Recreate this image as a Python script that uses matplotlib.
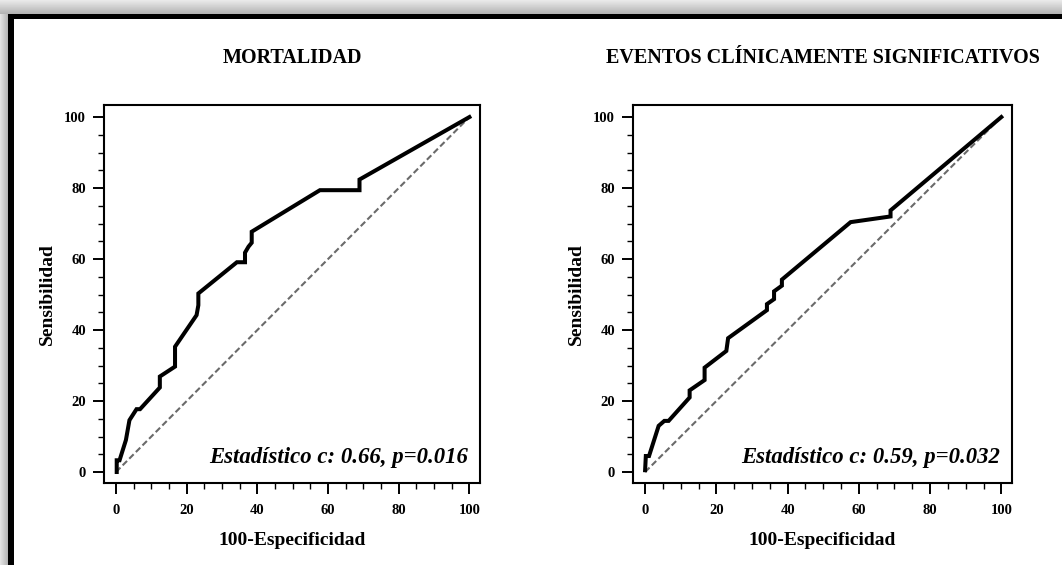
import matplotlib
matplotlib.use("Agg")
import matplotlib.pyplot as plt
import numpy as np
from matplotlib.ticker import MultipleLocator

plt.rcParams['font.family'] = ['Liberation Serif', 'DejaVu Serif']
plt.rcParams['font.weight'] = 'bold'

# datos (100-especificidad, sensibilidad)
mort_x = [0.2, 0.2, 1.0, 2.8, 3.8, 5.8, 6.8, 12.4, 12.4, 16.7, 16.7, 22.8, 23.3, 23.3,
          34.2, 36.5, 36.5, 37.5, 38.4, 38.4, 57.7, 68.9, 68.9, 100]
mort_y = [0.0, 3.3, 3.3, 9.0, 14.6, 17.7, 17.7, 23.8, 26.9, 29.7, 35.3, 44.2, 47.0, 50.3,
          59.1, 59.1, 61.8, 63.5, 64.6, 67.7, 79.4, 79.4, 82.4, 100]

evt_x = [0.0, 0.2, 1.1, 3.8, 5.4, 6.6, 12.5, 12.5, 16.7, 16.7, 22.8, 23.3, 34.2, 34.2,
         36.2, 36.2, 38.4, 38.4, 57.7, 68.9, 68.9, 100]
evt_y = [0.5, 4.5, 4.5, 13.0, 14.4, 14.4, 21.0, 23.0, 25.9, 29.4, 34.1, 37.7, 45.6, 47.3,
         48.7, 50.9, 52.5, 54.2, 70.4, 72.0, 73.7, 100]

titles = ["MORTALIDAD", "EVENTOS CLÍNICAMENTE SIGNIFICATIVOS"]
notes = ["Estadístico c: 0.66, p=0.016", "Estadístico c: 0.59, p=0.032"]

W, H = 1062, 565
fig = plt.figure(figsize=(W / 100, H / 100), dpi=100)

# marco con sombra
bg = fig.add_axes([0, 0, 1, 1], zorder=-5)
bg.axis('off')
grad = np.linspace(0.92, 0.7, 50).reshape(-1, 1)
bg.imshow(grad, cmap='gray', vmin=0, vmax=1, extent=[0, W, 14, 0], aspect='auto')
gradl = np.linspace(0.9, 0.68, 50).reshape(1, -1)
bg.imshow(gradl, cmap='gray', vmin=0, vmax=1, extent=[0, 9, H, 14], aspect='auto')
bg.add_patch(plt.Rectangle((8, 14), W, 5, color='black', lw=0))
bg.add_patch(plt.Rectangle((8, 14), 6, H, color='black', lw=0))
bg.set_xlim(0, W)
bg.set_ylim(H, 0)

boxes = [[104, 105, 480, 483], [633, 105, 1012, 483]]
curves = [(mort_x, mort_y), (evt_x, evt_y)]

for i in range(2):
    x0, y0, x1, y1 = boxes[i]
    ax = fig.add_axes([x0 / W, 1 - y1 / H, (x1 - x0) / W, (y1 - y0) / H])
    cx, cy = curves[i]
    ax.plot([0, 100], [0, 100], color='#6a6a6a', lw=1.5, ls=(0, (3, 1.5)))
    ax.plot(cx, cy, color='black', lw=2.9, solid_joinstyle='miter')
    ax.set_xlim(-3.4, 103)
    ax.set_ylim(-3.1, 103.4)
    ax.xaxis.set_major_locator(MultipleLocator(20))
    ax.xaxis.set_minor_locator(MultipleLocator(5))
    ax.yaxis.set_major_locator(MultipleLocator(20))
    ax.yaxis.set_minor_locator(MultipleLocator(5))
    ax.tick_params(which='major', direction='out', length=8, width=1.4, labelsize=10.5, pad=5)
    ax.tick_params(which='minor', direction='out', length=4, width=1.0)
    ax.tick_params(axis='x', which='major', pad=7)
    for s in ax.spines.values():
        s.set_linewidth(1.5)
    ax.set_xlabel("100-Especificidad", fontsize=14, fontweight='bold', labelpad=11)
    ax.set_ylabel("Sensibilidad", fontsize=14, fontweight='bold', labelpad=6)
    ax.text(99.6, 2.5, notes[i], fontsize=16.4, fontweight='bold', style='italic',
            ha='right', va='baseline')
    ax.set_title(titles[i], fontsize=14.5, fontweight='bold', pad=30)

fig.savefig("out.png", dpi=100)
